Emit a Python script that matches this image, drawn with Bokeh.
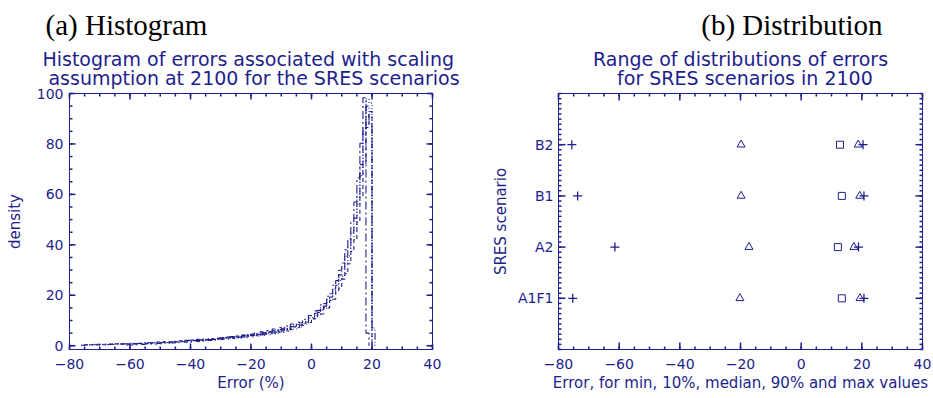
from bokeh.plotting import figure
from bokeh.layouts import row
from bokeh.models import FixedTicker, Range1d, Title
from bokeh.embed import file_html
from bokeh.resources import INLINE

NAVY = "#1e1e8c"
SANS = "DejaVu Sans"
SERIF = "Liberation Serif"
NB = "\u00a0"

# ---------------- data ----------------
# histogram bins: left edges -76 ... 20, width 1 (%)
bin_edges = list(range(-76, 22))

hist_dotted = [
    0.3, 0.5, 0.4, 0.3, 0.6, 0.4, 0.5, 0.7, 0.4, 0.6,
    0.8, 0.5, 0.7, 0.9, 0.6, 0.8, 1.0, 0.7, 0.9, 1.1,
    0.9, 1.2, 1.0, 1.3, 1.1, 1.4, 1.2, 1.5, 1.3, 1.6,
    1.4, 1.7, 1.5, 1.9, 1.6, 2.0, 1.7, 2.2, 1.8, 2.3,
    2.0, 2.5, 2.1, 2.7, 2.3, 2.9, 2.4, 3.0, 2.6, 3.2,
    2.8, 3.4, 3.0, 3.7, 3.2, 4.0, 3.5, 4.3, 3.8, 4.6,
    4.1, 4.9, 4.4, 5.3, 4.8, 5.8, 5.3, 6.4, 5.8, 7.0,
    6.6, 7.8, 7.4, 8.7, 8.5, 10.1, 10.4, 11.9, 12.3, 14.2,
    14.8, 17.1, 17.9, 20.8, 22.0, 25.9, 27.6, 32.8, 35.6, 42.0,
    46.8, 56.0, 67.5, 84.0, 97.8, 96.2, 0.0,
]
hist_dashed = [
    0.0, 0.3, 0.5, 0.4, 0.3, 0.6, 0.5, 0.4, 0.7, 0.5,
    0.6, 0.8, 0.6, 0.7, 1.0, 0.7, 0.9, 0.8, 1.1, 0.9,
    1.2, 1.0, 1.3, 1.1, 1.2, 1.5, 1.3, 1.6, 1.4, 1.5,
    1.8, 1.5, 1.9, 1.7, 2.1, 1.8, 2.2, 2.0, 2.5, 2.1,
    2.6, 2.3, 2.8, 2.5, 3.0, 2.6, 3.2, 2.9, 3.4, 3.0,
    3.6, 3.2, 3.9, 3.5, 4.2, 3.7, 4.5, 4.0, 4.8, 4.3,
    5.1, 4.6, 5.5, 5.0, 6.0, 5.4, 6.5, 5.9, 7.1, 6.4,
    7.7, 7.1, 8.5, 8.0, 9.4, 9.2, 10.9, 10.7, 12.8, 12.6,
    15.1, 15.0, 18.0, 18.4, 21.7, 22.8, 26.4, 28.6, 32.5, 37.4,
    41.9, 49.0, 59.5, 72.0, 86.5, 92.8, 0.0,
]
hist_dashdot = [
    0.0, 0.0, 0.0, 0.0, 0.0, 0.0, 0.0, 0.0, 0.0, 0.0,
    0.0, 0.0, 0.0, 0.0, 0.0, 0.4, 0.3, 0.5, 0.4, 0.6,
    0.5, 0.7, 0.6, 0.8, 0.7, 0.9, 0.8, 1.1, 0.9, 1.2,
    1.1, 1.4, 1.2, 1.6, 1.4, 1.8, 1.5, 2.0, 1.7, 2.2,
    1.9, 2.4, 2.1, 2.7, 2.3, 2.9, 2.6, 3.2, 2.8, 3.5,
    3.1, 3.8, 3.4, 4.2, 3.7, 4.6, 4.1, 5.0, 4.5, 5.5,
    5.0, 6.0, 5.5, 6.6, 6.1, 7.2, 6.7, 7.9, 7.3, 8.6,
    8.1, 9.4, 9.0, 10.5, 10.3, 12.0, 11.8, 13.8, 14.0, 16.2,
    16.7, 19.6, 20.6, 24.0, 25.8, 29.9, 32.8, 38.0, 42.4, 49.0,
    57.0, 66.5, 80.3, 98.3, 5.0, 0.0, 0.0,
]
hist_dashdotdot = [
    0.2, 0.4, 0.3, 0.5, 0.4, 0.3, 0.6, 0.5, 0.4, 0.7,
    0.5, 0.7, 0.9, 0.6, 0.8, 0.7, 1.0, 0.8, 0.9, 1.0,
    1.1, 0.9, 1.2, 1.0, 1.4, 1.2, 1.3, 1.5, 1.2, 1.7,
    1.5, 1.6, 1.9, 1.6, 1.9, 2.1, 1.8, 2.3, 2.1, 2.4,
    2.2, 2.6, 2.4, 2.8, 2.5, 3.1, 2.7, 3.3, 2.9, 3.5,
    3.1, 3.8, 3.4, 4.1, 3.6, 4.4, 4.0, 4.7, 4.3, 5.0,
    4.6, 5.4, 5.0, 5.9, 5.4, 6.4, 5.9, 7.0, 6.5, 7.6,
    7.2, 8.4, 8.1, 9.5, 9.3, 11.0, 11.2, 12.9, 13.2, 15.3,
    15.7, 18.4, 19.3, 22.5, 24.0, 28.1, 30.5, 35.5, 38.8, 45.0,
    50.6, 60.2, 71.8, 86.5, 95.0, 88.0, 7.0,
]

scenarios = ["A1F1", "A2", "B1", "B2"]
err_min = [-75.3, -61.4, -73.7, -75.6]
err_p10 = [-20.2, -17.2, -19.8, -19.8]
err_med = [13.4, 12.1, 13.4, 12.8]
err_p90 = [19.4, 17.4, 19.3, 18.8]
err_max = [20.7, 18.9, 20.7, 20.4]

x_ticks = [-80, -60, -40, -20, 0, 20, 40]
x_tick_labels = ["\u221280", "\u221260", "\u221240", "\u221220", "0", "20", "40"]
y_ticks_hist = [0, 20, 40, 60, 80, 100]

X0, X1 = -80, 40
x_minor = list(range(-80, 41, 5))
x_over = dict(zip(x_ticks, x_tick_labels))


# ---------------- helpers ----------------
def style_axis(ax, ticks, overrides=None):
    ax.ticker = FixedTicker(ticks=ticks)
    ax.axis_line_color = NAVY
    ax.major_tick_in = 0
    ax.major_tick_out = 0
    ax.minor_tick_in = 0
    ax.minor_tick_out = 0
    ax.major_label_text_color = NAVY
    ax.major_label_text_font = SANS
    ax.major_label_text_font_size = "14px"
    ax.axis_label_text_color = NAVY
    ax.axis_label_text_font = SANS
    ax.axis_label_text_font_size = "15px"
    ax.axis_label_text_font_style = "normal"
    if overrides:
        ax.major_label_overrides = overrides


def frame_ticks(p, xr, yr, fw, fh, xt, xm, yt, ym, major_len, minor_len):
    """Inward tick marks on all four frame sides; lengths given in pixels and
    converted to data units from the frame size (fw x fh pixels)."""
    (x0, x1), (y0, y1) = xr, yr
    ux = (x1 - x0) / fw
    uy = (y1 - y0) / fh
    kw = dict(line_color=NAVY, line_width=1.5, level="overlay")
    for ticks, ln in ((xt, major_len), (xm, minor_len)):
        n = len(ticks)
        p.segment(x0=ticks, y0=[y0] * n, x1=ticks, y1=[y0 + ln * uy] * n, **kw)
        p.segment(x0=ticks, y0=[y1] * n, x1=ticks, y1=[y1 - ln * uy] * n, **kw)
    for ticks, ln in ((yt, major_len), (ym, minor_len)):
        n = len(ticks)
        p.segment(x0=[x0] * n, y0=ticks, x1=[x0 + ln * ux] * n, y1=ticks, **kw)
        p.segment(x0=[x1] * n, y0=ticks, x1=[x1 - ln * ux] * n, y1=ticks, **kw)


# ---------------- (a) histogram ----------------
W1, H = 466, 398
BL1, BR1, BT, BB = 69, 34, 93, 49
Y0, Y1 = -1.5, 100
p1 = figure(width=W1, height=H, output_backend="svg", toolbar_location=None,
            title=None, x_range=Range1d(X0, X1), y_range=Range1d(Y0, Y1),
            min_border_left=BL1, min_border_right=BR1, min_border_top=BT,
            min_border_bottom=BB)
p1.outline_line_color = NAVY
p1.grid.visible = False

style_axis(p1.xaxis[0], x_ticks, overrides=x_over)
p1.xaxis[0].axis_label = "Error (%)"
p1.xaxis[0].major_label_standoff = 9
p1.xaxis[0].axis_label_standoff = 2
style_axis(p1.yaxis[0], y_ticks_hist)
p1.yaxis[0].axis_label = "density"
p1.yaxis[0].major_label_standoff = 6
p1.yaxis[0].axis_label_standoff = 10

sub1 = Title(text="Histogram of errors associated with scaling\n" + NB + "assumption at 2100 for the SRES scenarios",
             align="center", text_font=SANS, text_font_size="19px",
             text_font_style="normal", text_color=NAVY, text_line_height=0.9,
             standoff=8)
p1.add_layout(sub1, "above")
head1 = Title(text="(a) Histogram", align="left", offset=-24, text_font=SERIF,
              text_font_size="29px", text_font_style="normal", text_color="black",
              standoff=2)
p1.add_layout(head1, "above")

series = [(hist_dotted, "1 2"), (hist_dashed, "4 3"),
          (hist_dashdot, "8 3 2 3"), (hist_dashdotdot, "7 2 1 2 1 2")]
for vals, dash in series:
    nz = [i for i, v in enumerate(vals) if v > 0]
    i0, i1 = nz[0], nz[-1]
    xs = [bin_edges[i0]] + bin_edges[i0:i1 + 2]
    ys = [0.0] + vals[i0:i1 + 1] + [0.0]
    p1.step(xs, ys, mode="after", line_color=NAVY, line_width=1.1, line_dash=dash)

frame_ticks(p1, (X0, X1), (Y0, Y1), W1 - BL1 - BR1, H - BT - BB,
            x_ticks, x_minor, y_ticks_hist, list(range(0, 101, 5)), 6, 3)

# ---------------- (b) distribution ----------------
ypos = [i + 1 for i in range(len(scenarios))]
W2 = 467
BL2, BR2 = 92, 11
YB0, YB1 = 0, 5
p2 = figure(width=W2, height=H, output_backend="svg", toolbar_location=None,
            title=None, x_range=Range1d(X0, X1), y_range=Range1d(YB0, YB1),
            min_border_left=BL2, min_border_right=BR2, min_border_top=BT,
            min_border_bottom=BB)
p2.outline_line_color = NAVY
p2.grid.visible = False

y_minor = [round(i * 0.1, 1) for i in range(0, 51)]
style_axis(p2.xaxis[0], x_ticks, overrides=x_over)
p2.xaxis[0].axis_label = "Error, for min, 10%, median, 90% and max values"
p2.xaxis[0].major_label_standoff = 9
p2.xaxis[0].axis_label_standoff = 2
style_axis(p2.yaxis[0], ypos, overrides=dict(zip(ypos, scenarios)))
p2.yaxis[0].axis_label = "SRES scenario"
p2.yaxis[0].major_label_standoff = 5
p2.yaxis[0].axis_label_standoff = 5

sub2 = Title(text="Range of distributions of errors\n" + NB * 4 + "for SRES scenarios in 2100",
             align="center", text_font=SANS, text_font_size="19px",
             text_font_style="normal", text_color=NAVY, text_line_height=0.9,
             standoff=8)
p2.add_layout(sub2, "above")
head2 = Title(text="(b) Distribution", align="right", offset=40, text_font=SERIF,
              text_font_size="29px", text_font_style="normal", text_color="black",
              standoff=2)
p2.add_layout(head2, "above")

frame_ticks(p2, (X0, X1), (YB0, YB1), W2 - BL2 - BR2, H - BT - BB,
            x_ticks, x_minor, ypos, y_minor, 7, 3)

p2.scatter(err_min, ypos, marker="cross", size=9, line_color=NAVY, line_width=1.3)
p2.scatter(err_max, ypos, marker="cross", size=9, line_color=NAVY, line_width=1.3)
p2.scatter(err_p10, ypos, marker="triangle", size=8, line_color=NAVY, fill_color=None)
p2.scatter(err_p90, ypos, marker="triangle", size=8, line_color=NAVY, fill_color=None)
p2.scatter(err_med, ypos, marker="square", size=7, line_color=NAVY, fill_color=None)

layout = row(p1, p2)
open("out.html", "w").write(file_html(layout, INLINE))
